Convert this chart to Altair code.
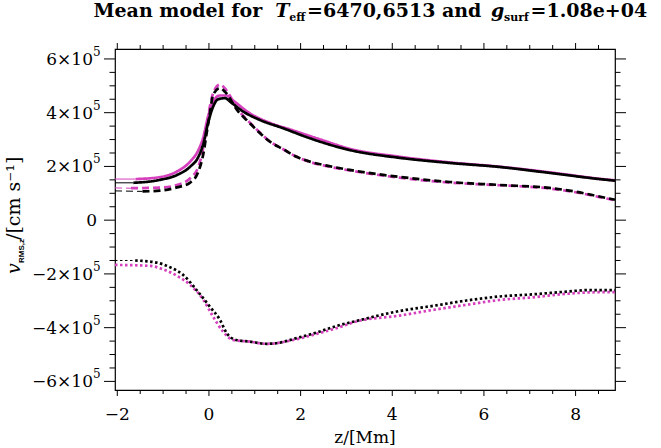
import altair as alt
import pandas as pd

# ---------------- data (velocities in units of 1e5 cm/s) ----------------
Z_SOLID_K = [-2.05, -1.65, -1.07, -0.70, -0.41, -0.23, -0.12, -0.02, 0.09, 0.20, 0.35, 0.49, 0.75, 1.11, 1.62, 2.20, 3.07, 4.16, 5.25, 6.34, 7.43, 8.52, 8.86]
V_SOLID_K = [1.39, 1.39, 1.50, 1.68, 1.99, 2.36, 2.86, 3.61, 4.22, 4.50, 4.54, 4.37, 4.04, 3.73, 3.42, 3.05, 2.61, 2.32, 2.13, 1.98, 1.76, 1.53, 1.47]

Z_SOLID_M = [-2.05, -1.60, -1.07, -0.70, -0.41, -0.23, -0.12, -0.02, 0.09, 0.24, 0.38, 0.53, 0.89, 1.30, 1.80, 2.40, 3.07, 4.16, 5.25, 6.34, 7.43, 8.52, 8.86]
V_SOLID_M = [1.53, 1.53, 1.60, 1.81, 2.18, 2.61, 3.11, 3.85, 4.41, 4.64, 4.64, 4.45, 3.98, 3.64, 3.36, 3.02, 2.66, 2.36, 2.15, 1.99, 1.78, 1.54, 1.48]

Z_DASH_K = [-2.05, -1.45, -1.07, -0.70, -0.41, -0.23, -0.12, -0.05, 0.02, 0.09, 0.24, 0.35, 0.64, 0.82, 1.04, 1.33, 1.62, 1.91, 2.20, 2.60, 3.07, 4.16, 5.25, 6.34, 7.43, 8.00, 8.52, 8.86]
V_DASH_K = [1.09, 1.07, 1.10, 1.22, 1.40, 1.81, 2.49, 3.24, 3.98, 4.66, 4.92, 4.78, 4.04, 3.73, 3.36, 2.92, 2.64, 2.36, 2.18, 2.02, 1.87, 1.61, 1.42, 1.31, 1.20, 1.06, 0.88, 0.76]

Z_DASH_M = [-2.05, -1.70, -1.07, -0.70, -0.41, -0.23, -0.12, -0.05, 0.02, 0.09, 0.24, 0.35, 0.64, 0.82, 1.04, 1.33, 1.62, 1.91, 2.20, 2.60, 3.07, 4.16, 5.25, 6.34, 7.43, 8.00, 8.52, 8.86]
V_DASH_M = [1.20, 1.19, 1.21, 1.31, 1.56, 1.99, 2.74, 3.48, 4.22, 4.72, 5.05, 4.90, 4.10, 3.76, 3.38, 2.93, 2.64, 2.36, 2.17, 2.00, 1.85, 1.58, 1.40, 1.30, 1.18, 1.04, 0.86, 0.74]

Z_DOT_K = [-2.05, -1.61, -1.14, -0.85, -0.56, -0.27, 0.02, 0.24, 0.39, 0.60, 0.89, 1.26, 1.47, 1.91, 2.35, 2.78, 3.22, 4.16, 4.89, 5.62, 6.34, 7.07, 7.80, 8.31, 8.86]
V_DOT_K = [-1.50, -1.50, -1.58, -1.75, -2.04, -2.60, -3.22, -3.71, -4.21, -4.46, -4.52, -4.60, -4.58, -4.39, -4.18, -3.94, -3.75, -3.38, -3.19, -2.99, -2.84, -2.76, -2.66, -2.60, -2.60]

Z_DOT_M = [-2.05, -1.29, -1.00, -0.70, -0.41, -0.12, 0.09, 0.31, 0.53, 0.89, 1.26, 1.91, 2.35, 2.78, 3.22, 4.16, 4.89, 5.62, 6.34, 7.07, 7.80, 8.52, 8.86]
V_DOT_M = [-1.665, -1.70, -1.83, -2.07, -2.41, -2.97, -3.59, -4.15, -4.46, -4.52, -4.60, -4.43, -4.23, -4.02, -3.77, -3.55, -3.34, -3.15, -2.97, -2.87, -2.74, -2.68, -2.68]

X_MAJOR = [-2, 0, 2, 4, 6, 8]
X_LABELS = ["\u22122", "0", "2", "4", "6", "8"]
X_MINOR = [-1.5, -1, -0.5, 0.5, 1, 1.5, 2.5, 3, 3.5, 4.5, 5, 5.5, 6.5, 7, 7.5, 8.5]
Y_MAJOR = [-6e5, -4e5, -2e5, 0, 2e5, 4e5, 6e5]
Y_LABELS = ["\u22126\u00d710", "\u22124\u00d710", "\u22122\u00d710", "0", "2\u00d710", "4\u00d710", "6\u00d710"]
Y_EXP = ["5", "5", "5", "", "5", "5", "5"]
Y_MINOR = [-5.5e5, -5e5, -4.5e5, -3.5e5, -3e5, -2.5e5, -1.5e5, -1e5, -0.5e5,
           0.5e5, 1e5, 1.5e5, 2.5e5, 3e5, 3.5e5, 4.5e5, 5e5, 5.5e5]

# ---------------- layout ----------------
W, H = 500, 341
BLACK = "#000000"
MAGENTA = "#d63fbd"
FONT = "DejaVu Serif"
xs = alt.Scale(domain=[-2.05, 8.86], nice=False, zero=False)
ys = alt.Scale(domain=[-6.32e5, 6.37e5], nice=False, zero=False)

SERIES = [
    ("solid_m", Z_SOLID_M, V_SOLID_M, "m", "solid", 1),
    ("dash_m", Z_DASH_M, V_DASH_M, "m", "dashed", 1),
    ("dot_m", Z_DOT_M, V_DOT_M, "m", "dotted", 0),
    ("solid_k", Z_SOLID_K, V_SOLID_K, "k", "solid", 1),
    ("dash_k", Z_DASH_K, V_DASH_K, "k", "dashed", 1),
    ("dot_k", Z_DOT_K, V_DOT_K, "k", "dotted", 1),
]
rows = []
for name, zs, vs, col, sty, nthin in SERIES:
    for i, (z, v) in enumerate(zip(zs, vs)):
        if nthin > 0 and i <= nthin:
            rows.append(dict(z=z, v=v * 1e5, key=name + "_thin", seg="thin", col=col, style=sty))
        if i >= nthin:
            rows.append(dict(z=z, v=v * 1e5, key=name + "_thick", seg="thick", col=col, style=sty))
df = pd.DataFrame(rows)


def lines(col, color):
    return alt.Chart(df[df.col == col]).mark_line(interpolate="monotone", strokeCap="butt", color=color).encode(
        x=alt.X("z:Q", scale=xs, axis=None),
        y=alt.Y("v:Q", scale=ys, axis=None),
        strokeDash=alt.StrokeDash("style:N", scale=alt.Scale(domain=["solid", "dashed", "dotted"],
                                                             range=[[1, 0], [7, 4], [2.5, 2.5]]), legend=None),
        strokeWidth=alt.StrokeWidth("seg:N", scale=alt.Scale(domain=["thin", "thick"], range=[1.0, 2.7]), legend=None),
        detail="key:N",
    )


def xticks(vals, y0, y1):
    return alt.Chart(pd.DataFrame({"t": vals})).mark_rule(color=BLACK, strokeWidth=1).encode(
        x=alt.X("t:Q", scale=xs, axis=None), y=alt.value(y0), y2=alt.value(y1))


def yticks(vals, x0, x1):
    return alt.Chart(pd.DataFrame({"t": vals})).mark_rule(color=BLACK, strokeWidth=1).encode(
        y=alt.Y("t:Q", scale=ys, axis=None), x=alt.value(x0), x2=alt.value(x1))


def piece(text, x, y, size, style="normal", weight="normal", angle=0, font=FONT, align="left"):
    return alt.Chart(pd.DataFrame({"t": [text]})).mark_text(
        font=font, fontSize=size, fontStyle=style, fontWeight=weight, angle=angle,
        align=align, baseline="alphabetic", color=BLACK).encode(
        text="t:N", x=alt.value(x), y=alt.value(y))


# tick labels through the scales
xlab = alt.Chart(pd.DataFrame({"t": X_MAJOR, "lab": X_LABELS})).mark_text(
    font=FONT, fontSize=17, align="center", baseline="alphabetic", color=BLACK).encode(
    x=alt.X("t:Q", scale=xs, axis=None), y=alt.value(H + 30), text="lab:N")
ydf = pd.DataFrame({"t": Y_MAJOR, "lab": Y_LABELS, "exp": Y_EXP})
ylab = alt.Chart(ydf).mark_text(
    font=FONT, fontSize=17, align="right", baseline="alphabetic", dy=6, color=BLACK).encode(
    y=alt.Y("t:Q", scale=ys, axis=None), x=alt.value(-22), text="lab:N")
yexp = alt.Chart(ydf).mark_text(
    font=FONT, fontSize=12, align="left", baseline="alphabetic", dy=-3, color=BLACK).encode(
    y=alt.Y("t:Q", scale=ys, axis=None), x=alt.value(-22), text="exp:N")
ylab0 = piece("0", -17, 0, 17, align="right")  # placeholder replaced below

ylab = alt.Chart(ydf[ydf.lab != "0"]).mark_text(
    font=FONT, fontSize=17, align="right", baseline="alphabetic", dy=6, color=BLACK).encode(
    y=alt.Y("t:Q", scale=ys, axis=None), x=alt.value(-22), text="lab:N")
yzero = alt.Chart(ydf[ydf.lab == "0"]).mark_text(
    font=FONT, fontSize=17, align="right", baseline="alphabetic", dy=6, color=BLACK).encode(
    y=alt.Y("t:Q", scale=ys, axis=None), x=alt.value(-18), text="lab:N")

# title pieces (chained widths, DejaVu Serif Bold metrics approx)
TS = 19
tx0 = 93.5 - 115
ty = 17 - 49
tsub = 20.5 - 49
w1 = 9.567 * TS
w2 = 14.0
w3 = 17.8
w4 = 9.677 * TS
w5 = 13.0
w6 = 26.6
title_layers = [
    piece("Mean model for ", tx0, ty, TS, weight="bold"),
    piece("T", tx0 + w1, ty, TS, style="italic", weight="bold"),
    piece("eff", tx0 + w1 + w2, tsub, 11, weight="bold"),
    piece("=6470,6513 and ", tx0 + w1 + w2 + w3, ty, TS, weight="bold"),
    piece("g", tx0 + w1 + w2 + w3 + w4, ty, TS, style="italic", weight="bold"),
    piece("surf", tx0 + w1 + w2 + w3 + w4 + w5, tsub, 11, weight="bold"),
    piece("=1.08e+04", tx0 + w1 + w2 + w3 + w4 + w5 + w6, ty, TS, weight="bold"),
]

# x-axis title
xtitle = piece("z/[Mm]", W / 2, H + 53, 17, align="center")

# y-axis title pieces (rotated, reading upward)
yb = 20 - 115
ystart = 274 - 49
ytitle_layers = [
    piece("v", yb, ystart, 19, style="italic", angle=270),
    piece("RMS,z", yb + 4, ystart - 11, 8, weight="bold", angle=270, font="Liberation Sans"),
    piece("/[cm s\u207b\u00b9]", yb, ystart - 11 - 23, 19, angle=270),
]

chart = alt.layer(
    lines("m", MAGENTA),
    lines("k", BLACK),
    xticks(X_MAJOR, H, H + 6), xticks(X_MINOR, H, H + 4),
    xticks(X_MAJOR, 0, -6), xticks(X_MINOR, 0, -4),
    yticks(Y_MAJOR, 0, -11), yticks(Y_MINOR, 0, -5.5),
    yticks(Y_MAJOR, W, W + 11), yticks(Y_MINOR, W, W + 5.5),
    xlab, ylab, yzero, yexp, xtitle,
    *title_layers, *ytitle_layers,
).properties(
    width=W, height=H,
    autosize=alt.AutoSizeParams(type="none"),
    padding={"left": 115, "top": 49, "right": 46, "bottom": 58},
    background="white",
).configure_view(stroke=BLACK, strokeWidth=1.2)

chart.save("out.html", embed_options={"renderer": "svg", "actions": False})
